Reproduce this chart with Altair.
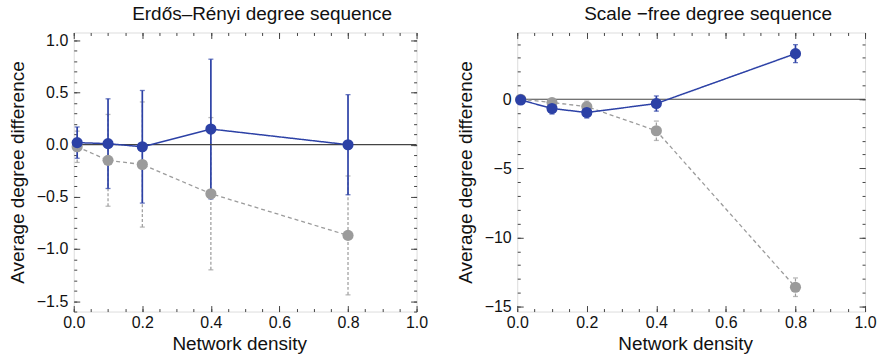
import altair as alt
import pandas as pd

# ---------------- data ----------------
density = [0.01, 0.1, 0.2, 0.4, 0.8]

# Erdős–Rényi panel
er_blue = [0.02, 0.01, -0.02, 0.15, 0.0]
er_blue_err = [0.15, 0.43, 0.54, 0.67, 0.48]
er_gray = [-0.02, -0.15, -0.19, -0.47, -0.87]
er_gray_err = [0.15, 0.44, 0.60, 0.73, 0.57]

# Scale-free panel
sf_blue = [-0.05, -0.67, -0.96, -0.31, 3.3]
sf_blue_err = [0.25, 0.40, 0.40, 0.55, 0.65]
sf_gray = [0.0, -0.24, -0.53, -2.28, -13.6]
sf_gray_err = [0.20, 0.30, 0.40, 0.70, 0.67]

x_major = [0.0, 0.2, 0.4, 0.6, 0.8, 1.0]
x_minor = [i / 20 for i in range(21)]

er_y_major = [-1.5, -1.0, -0.5, 0.0, 0.5, 1.0]
er_y_minor = [round(-1.6 + i * 0.1, 2) for i in range(27)]
sf_y_major = [-15, -10, -5, 0]
sf_y_minor = list(range(-15, 5))

BLUE = "#2c41a6"
GRAY = "#9b9b9b"
DARK = "#444444"
FONT = "Liberation Sans"
LABEL_SIZE = 16
TITLE_SIZE = 19


def make_df(blue, blue_err, gray, gray_err):
    rows = []
    for x, m, e in zip(density, gray, gray_err):
        rows.append(dict(x=x, m=m, lo=m - e, hi=m + e, s="gray"))
    for x, m, e in zip(density, blue, blue_err):
        rows.append(dict(x=x, m=m, lo=m - e, hi=m + e, s="blue"))
    return pd.DataFrame(rows)


def panel(df, title, ydom, ymaj, ymin, yfmt, width):
    xs = alt.Scale(domain=[0, 1], nice=False, zero=False)
    ys = alt.Scale(domain=ydom, nice=False, zero=False)
    base = alt.Chart(df)
    layers = []

    # error bars
    for s, col, dash, sw in [("gray", GRAY, [3, 2], 1.2), ("blue", BLUE, [1, 0], 1.7)]:
        sub = base.transform_filter(alt.datum.s == s)
        layers.append(
            sub.mark_rule(color=col, strokeDash=dash, strokeWidth=sw).encode(
                x=alt.X("x:Q", scale=xs, axis=None),
                y=alt.Y("lo:Q", scale=ys, axis=None),
                y2="hi:Q",
            )
        )
        layers.append(
            sub.transform_fold(["lo", "hi"], as_=["k", "v"])
            .mark_tick(orient="horizontal", color=col, size=5, thickness=1.3)
            .encode(
                x=alt.X("x:Q", scale=xs, axis=None),
                y=alt.Y("v:Q", scale=ys, axis=None),
            )
        )

    # zero line
    layers.append(
        alt.Chart(pd.DataFrame({"z": [0]}))
        .mark_rule(color=DARK, strokeWidth=1.2)
        .encode(y=alt.Y("z:Q", scale=ys, axis=None))
    )

    # lines and points
    for s, col, dash, sw in [("gray", GRAY, [4, 3], 1.3), ("blue", BLUE, [1, 0], 1.5)]:
        sub = base.transform_filter(alt.datum.s == s)
        layers.append(
            sub.mark_line(color=col, strokeDash=dash, strokeWidth=sw).encode(
                x=alt.X("x:Q", scale=xs, axis=None),
                y=alt.Y("m:Q", scale=ys, axis=None),
            )
        )
        layers.append(
            sub.mark_circle(color=col, size=125, opacity=1).encode(
                x=alt.X("x:Q", scale=xs, axis=None),
                y=alt.Y("m:Q", scale=ys, axis=None),
            )
        )

    common = dict(domain=False, grid=False, tickColor=DARK, tickWidth=1)

    def axis_layer(xaxis, yaxis):
        return base.mark_point(opacity=0).encode(
            x=alt.X("x:Q", scale=xs, axis=xaxis),
            y=alt.Y("m:Q", scale=ys, axis=yaxis),
        )

    # major ticks with labels (bottom / left), ticks pointing inward
    layers.append(
        axis_layer(
            alt.Axis(
                orient="bottom", values=x_major, format=".1f", offset=-6, tickSize=6,
                labelFlush=False, labelOverlap=False, labelFontSize=LABEL_SIZE, labelFont=FONT,
                labelColor="#111", labelPadding=3, title="Network density",
                titleFontSize=TITLE_SIZE, titleFont=FONT, titleFontWeight="normal",
                titleColor="#111", titlePadding=4, titleX=width / 2 - 6, **common
            ),
            alt.Axis(
                orient="left", values=ymaj, format=yfmt, offset=-6, tickSize=6,
                labelFlush=False, labelOverlap=False, labelFontSize=LABEL_SIZE, labelFont=FONT,
                labelColor="#111", labelPadding=6, title="Average degree difference",
                titleFontSize=TITLE_SIZE, titleFont=FONT, titleFontWeight="normal",
                titleColor="#111", titlePadding=9, **common
            ),
        )
    )
    # major ticks top / right
    layers.append(
        axis_layer(
            alt.Axis(orient="top", values=x_major, offset=-6, tickSize=6,
                     labels=False, title=None, **common),
            alt.Axis(orient="right", values=ymaj, offset=-6, tickSize=6,
                     labels=False, title=None, **common),
        )
    )
    # minor ticks bottom / left
    layers.append(
        axis_layer(
            alt.Axis(orient="bottom", values=x_minor, offset=-3, tickSize=3,
                     labels=False, title=None, **common),
            alt.Axis(orient="left", values=ymin, offset=-3, tickSize=3,
                     labels=False, title=None, **common),
        )
    )
    # minor ticks top / right
    layers.append(
        axis_layer(
            alt.Axis(orient="top", values=x_minor, offset=-3, tickSize=3,
                     labels=False, title=None, **common),
            alt.Axis(orient="right", values=ymin, offset=-3, tickSize=3,
                     labels=False, title=None, **common),
        )
    )

    return (
        alt.layer(*layers)
        .resolve_axis(x="independent", y="independent")
        .properties(
            width=width,
            height=280,
            title=alt.Title(
                title, fontSize=TITLE_SIZE, font=FONT, fontWeight="normal", color="#111",
                dx=17, offset=8,
            ),
        )
    )


left = panel(
    make_df(er_blue, er_blue_err, er_gray, er_gray_err),
    "Erdős–Rényi degree sequence",
    [-1.6, 1.076], er_y_major, er_y_minor, ".1f", 344,
)
right = panel(
    make_df(sf_blue, sf_blue_err, sf_gray, sf_gray_err),
    "Scale −free degree sequence",
    [-15.36, 4.83], sf_y_major, sf_y_minor, "d", 349,
)

chart = (
    alt.hconcat(left, right, spacing=27)
    .properties(padding={"left": 7, "top": 4, "right": 0, "bottom": 0})
    .configure_view(stroke=DARK, strokeWidth=1)
    .configure(background="white")
)

chart.save("out.html", embed_options={"renderer": "svg", "actions": False})
